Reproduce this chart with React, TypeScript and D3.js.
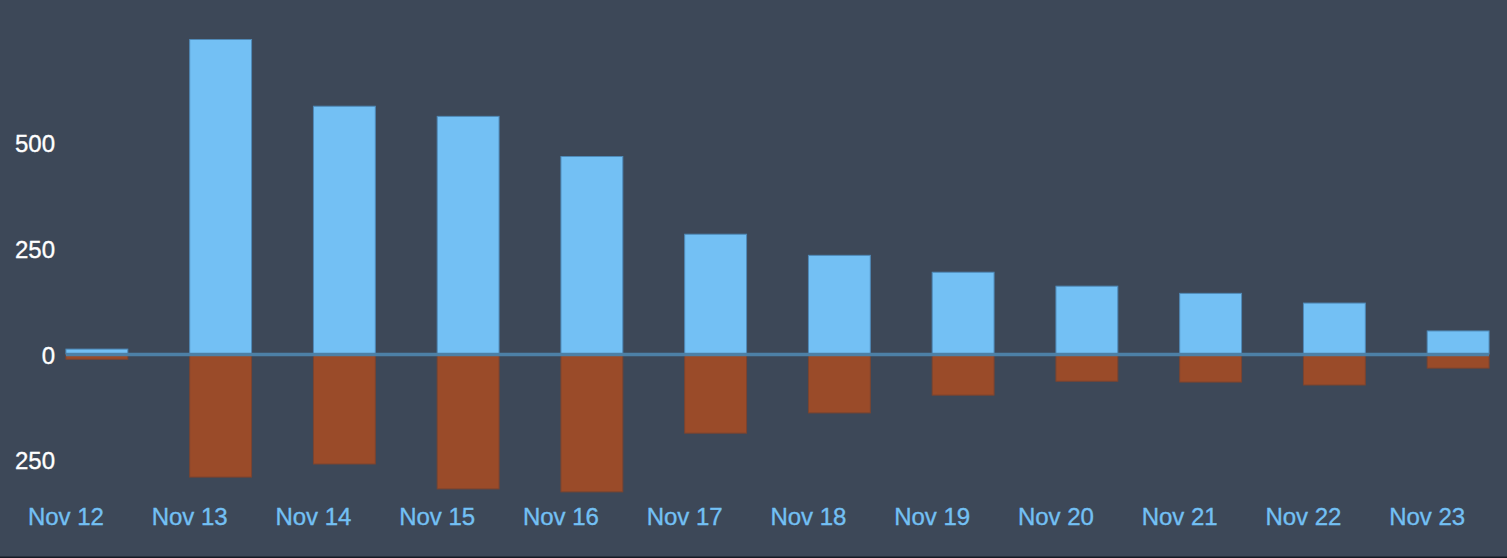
import * as d3 from 'd3';
import React, { useEffect, useRef } from 'react';

const days = ['Nov 12', 'Nov 13', 'Nov 14', 'Nov 15', 'Nov 16', 'Nov 17', 'Nov 18', 'Nov 19', 'Nov 20', 'Nov 21', 'Nov 22', 'Nov 23'];
const gains = [13, 746, 588, 564, 469, 285, 235, 195, 162, 145, 122, 56];
const losses = [-11, -290, -259, -318, -325, -186, -138, -96, -63, -65, -72, -32];
const yTicks = [-250, 0, 250, 500];

const W = 1507;
const H = 558;

const App: React.FC = () => {
  const svgRef = useRef<SVGSVGElement | null>(null);

  useEffect(() => {
    if (!svgRef.current) return;
    const svg = d3.select(svgRef.current);
    svg.selectAll('*').remove();

    svg.append('rect').attr('width', W).attr('height', H).attr('fill', '#3d4858');
    svg.append('rect').attr('x', 0).attr('y', H - 1.5).attr('width', W).attr('height', 1.5).attr('fill', '#161c26');

    const x = d3.scaleBand<string>().domain(days).range([35, 1520]).paddingInner(0.5).paddingOuter(0.25);
    // 0 sits at ~354.5px, 250 units ~ 105.7px
    const y = d3.scaleLinear().domain([-250, 500]).range([460.2, 143.4]);

    // y labels (negatives shown as absolute values)
    svg
      .append('g')
      .selectAll('text')
      .data(yTicks)
      .enter()
      .append('text')
      .attr('x', 55)
      .attr('y', (d) => y(d) + 9)
      .attr('text-anchor', 'end')
      .attr('fill', '#ffffff')
      .attr('stroke', '#ffffff')
      .attr('stroke-width', 0.35)
      .style('font-family', 'Liberation Sans, Arial, sans-serif')
      .style('font-size', '24px')
      .text((d) => Math.abs(d));

    // positive bars
    svg
      .append('g')
      .selectAll('rect')
      .data(gains)
      .enter()
      .append('rect')
      .attr('x', (d, i) => x(days[i])!)
      .attr('y', (d) => y(d))
      .attr('width', x.bandwidth())
      .attr('height', (d) => y(0) - y(d))
      .attr('fill', '#73c0f4')
      .attr('stroke', '#4f8ab8')
      .attr('stroke-width', 1);

    // negative bars
    svg
      .append('g')
      .selectAll('rect')
      .data(losses)
      .enter()
      .append('rect')
      .attr('x', (d, i) => x(days[i])!)
      .attr('y', y(0))
      .attr('width', x.bandwidth())
      .attr('height', (d) => y(d) - y(0))
      .attr('fill', '#9a4b29')
      .attr('stroke', '#7a4430')
      .attr('stroke-width', 1);

    // zero line
    svg
      .append('line')
      .attr('x1', x(days[0])!)
      .attr('x2', x(days[days.length - 1])! + x.bandwidth())
      .attr('y1', y(0))
      .attr('y2', y(0))
      .attr('stroke', '#4d80a6')
      .attr('stroke-width', 3.5);

    // x labels, centred on the left edge of each bar
    svg
      .append('g')
      .selectAll('text')
      .data(days)
      .enter()
      .append('text')
      .attr('x', (d) => x(d)!)
      .attr('y', 525)
      .attr('text-anchor', 'middle')
      .attr('fill', '#73c0f4')
      .attr('stroke', '#73c0f4')
      .attr('stroke-width', 0.35)
      .style('font-family', 'Liberation Sans, Arial, sans-serif')
      .style('font-size', '24px')
      .text((d) => d);
  }, []);

  return <svg ref={svgRef} width={W} height={H} style={{ position: 'absolute', left: 0, top: 0 }} />;
};

export default App;
